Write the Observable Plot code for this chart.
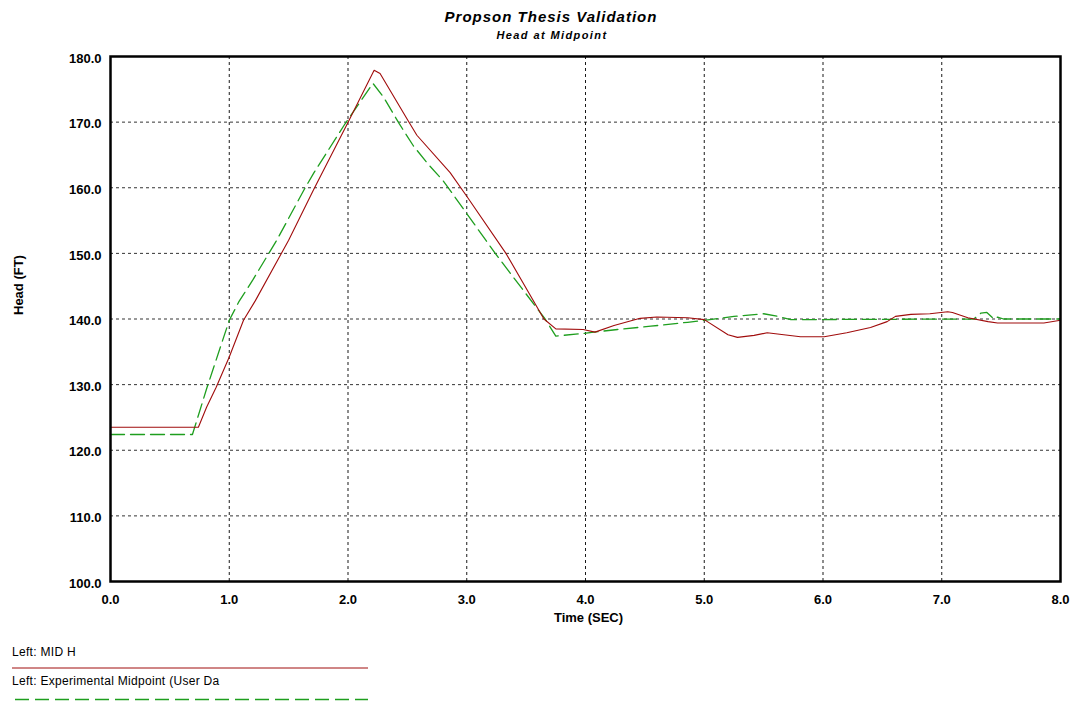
<!DOCTYPE html>
<html>
<head>
<meta charset="utf-8">
<script src="https://cdn.jsdelivr.net/npm/d3@7"></script>
<script src="https://cdn.jsdelivr.net/npm/@observablehq/plot@0.6"></script>
<style>
  html, body { margin: 0; padding: 0; background: #fff; }
  #wrap { position: relative; width: 1078px; height: 701px; overflow: hidden; background: #fff; font-family: "Liberation Sans", Arial, sans-serif; }
  #chart { position: absolute; left: 0; top: 0; }
  .title { position: absolute; transform: translateX(-50%); white-space: nowrap; font-weight: bold; font-style: italic; line-height: 1; color: #000; z-index: 2; }
  .legtext { position: absolute; left: 12px; font-size: 12px; letter-spacing: 0.3px; line-height: 1; white-space: nowrap; color: #000; z-index: 2; }
  .legline { position: absolute; left: 0; z-index: 2; }
</style>
</head>
<body>
<div id="wrap">
  <div id="chart"></div>
  <div class="title" id="t1" style="left:551px; top:9px; font-size:15px; letter-spacing:1px;"></div>
  <div class="title" id="t2" style="left:552px; top:30px; font-size:11px; letter-spacing:1.4px;"></div>
  <div class="legtext" id="l1" style="top:645.5px;"></div>
  <svg class="legline" style="top:660px" width="400" height="16"><line id="ll1" x1="12" x2="368" y1="8" y2="8" stroke-width="1"/></svg>
  <div class="legtext" id="l2" style="top:674.5px;"></div>
  <svg class="legline" style="top:692px" width="400" height="9"><line id="ll2" x1="15" x2="368" y1="7.5" y2="7.5" stroke-width="1.3"/></svg>
</div>
<script>
// ---- Data ----
const chartTitle = "Propson Thesis Validation";
const chartSubtitle = "Head at Midpoint";
const xLabel = "Time (SEC)";
const yLabel = "Head (FT)";
const seriesNames = ["Left: MID H", "Left: Experimental Midpoint (User Da"];
const seriesColors = ["#a00c0c", "#1e9e1e"];

const xTicks = [0, 1, 2, 3, 4, 5, 6, 7, 8];
const yTicks = [100, 110, 120, 130, 140, 150, 160, 170, 180];

// MID H (computed)
const timeMid = [0, 0.74, 0.81, 0.89, 1.0, 1.12, 1.22, 1.5, 1.71, 1.99, 2.22, 2.27, 2.5, 2.58, 2.86, 3.0, 3.33, 3.65, 3.75, 3.98, 4.08, 4.24, 4.46, 4.6, 4.86, 5.0, 5.2, 5.28, 5.42, 5.53, 5.67, 5.81, 6.01, 6.2, 6.4, 6.54, 6.61, 6.74, 6.9, 7.05, 7.09, 7.22, 7.39, 7.47, 7.86, 8.0];
const headMid = [123.5, 123.5, 126.6, 129.6, 134.2, 139.8, 142.8, 152.0, 159.7, 169.6, 177.9, 177.4, 170.4, 168.0, 162.3, 158.7, 150.0, 140.0, 138.5, 138.4, 138.0, 139.0, 140.1, 140.3, 140.2, 139.9, 137.6, 137.2, 137.5, 137.9, 137.6, 137.3, 137.3, 137.9, 138.7, 139.6, 140.4, 140.7, 140.8, 141.1, 141.0, 140.2, 139.6, 139.4, 139.4, 139.8];

// Experimental Midpoint (user data)
const timeExp = [0, 0.69, 0.81, 1.0, 1.08, 1.2, 1.4, 1.63, 1.71, 1.97, 2.21, 2.3, 2.43, 2.55, 2.67, 2.8, 2.86, 3.24, 3.66, 3.75, 3.98, 4.07, 4.27, 4.55, 4.86, 5.0, 5.25, 5.5, 5.62, 5.73, 7.27, 7.33, 7.38, 7.44, 7.47, 7.52, 8.0];
const headExp = [122.4, 122.4, 129.4, 139.8, 142.6, 146.0, 152.0, 159.7, 162.2, 169.6, 175.9, 173.8, 169.8, 166.4, 163.7, 161.1, 159.6, 150.0, 140.0, 137.4, 137.8, 138.0, 138.4, 138.9, 139.5, 139.8, 140.4, 140.8, 140.4, 139.9, 140.0, 140.9, 141.0, 140.0, 140.3, 140.0, 140.0];

// ---- Build ----
const mid = timeMid.map((t, i) => ({t, h: headMid[i]}));
const exp = timeExp.map((t, i) => ({t, h: headExp[i]}));
const fmt = d3.format(".1f");

const chart = Plot.plot({
  width: 1078,
  height: 640,
  marginLeft: 110,
  marginRight: 18,
  marginTop: 56,
  marginBottom: 59,
  style: {fontFamily: "'Liberation Sans', Arial, sans-serif", fontWeight: "bold", fontSize: "13px", background: "#fff", color: "#000"},
  x: {domain: [0, 8]},
  y: {domain: [100, 180]},
  marks: [
    Plot.gridX(xTicks.slice(1, -1), {stroke: "#000", strokeOpacity: 0.9, strokeDasharray: "3,3"}),
    Plot.gridY(yTicks.slice(1, -1), {stroke: "#000", strokeOpacity: 0.8, strokeDasharray: "3,3"}),
    Plot.line(exp, {x: "t", y: "h", stroke: seriesColors[1], strokeWidth: 1.3, strokeDasharray: "14,6"}),
    Plot.line(mid, {x: "t", y: "h", stroke: seriesColors[0], strokeWidth: 1.1}),
    Plot.frame({stroke: "#000", strokeWidth: 2.5}),
    Plot.axisX(xTicks, {tickSize: 0, tickPadding: 13, tickFormat: fmt, label: null}),
    Plot.axisY(yTicks, {tickSize: 0, tickPadding: 9, tickFormat: fmt, label: null, dy: 2}),
    Plot.text([xLabel], {frameAnchor: "bottom", dy: 40, dx: 3, fontSize: 13, fontWeight: "bold", text: d => d}),
    Plot.text([yLabel], {frameAnchor: "left", rotate: -90, dx: -92, dy: -4, fontSize: 13, fontWeight: "bold", text: d => d})
  ]
});
document.getElementById("chart").appendChild(chart);

document.getElementById("t1").textContent = chartTitle;
document.getElementById("t2").textContent = chartSubtitle;
document.getElementById("l1").textContent = seriesNames[0];
document.getElementById("l2").textContent = seriesNames[1];
const ll1 = document.getElementById("ll1");
ll1.setAttribute("stroke", seriesColors[0]);
const ll2 = document.getElementById("ll2");
ll2.setAttribute("stroke", seriesColors[1]);
ll2.setAttribute("stroke-dasharray", "14,6");
</script>
</body>
</html>
